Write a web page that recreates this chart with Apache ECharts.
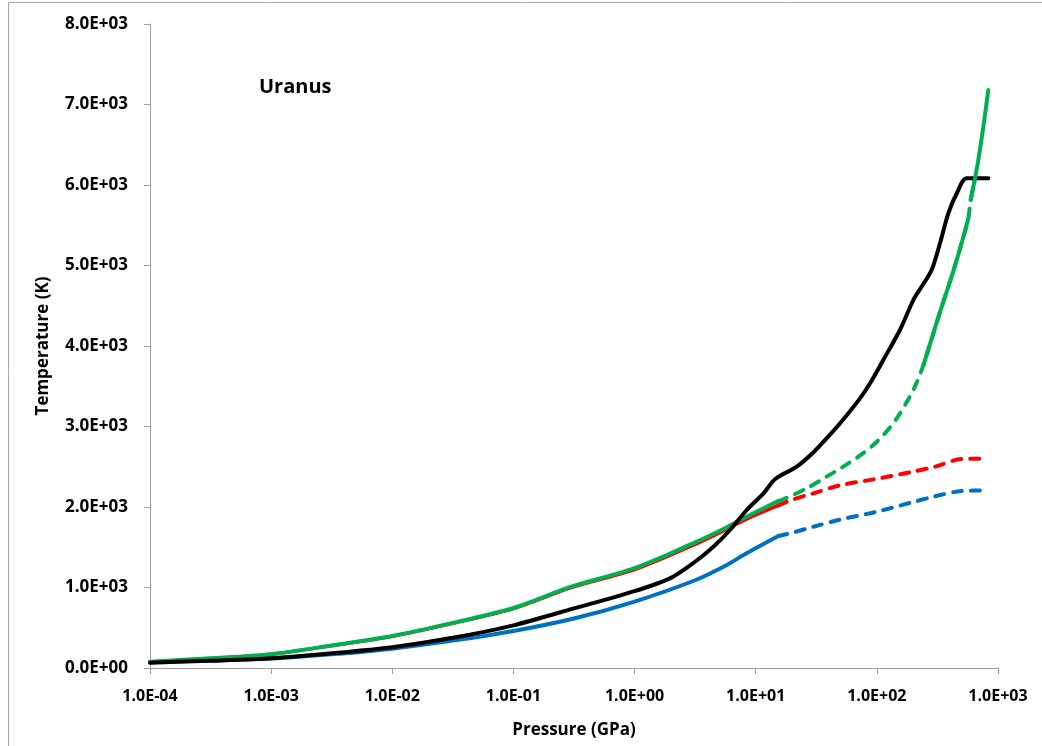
<!DOCTYPE html>
<html>
<head>
<meta charset="utf-8">
<script src="https://cdn.jsdelivr.net/npm/echarts@6/dist/echarts.min.js"></script>
<style>
html,body{margin:0;padding:0;background:#fff;}
#chart{width:1042px;height:746px;}
</style>
</head>
<body>
<div id="chart"></div>
<script>
// Data: [pressure (GPa), temperature (K)]
const blueSolid = [[1e-4,72],[3.16e-4,92],[1e-3,118],[3.16e-3,170],[1e-2,240],[3.16e-2,340],[0.1,460],[0.316,615],[1,825],[3.16,1090],[5.62,1270],[8.4,1425],[15.4,1640]];
const blueDashed = [[15.4,1640],[20,1680],[30,1755],[50,1845],[100,1942],[200,2062],[300,2132],[500,2199],[800,2205]];
const redSolid = [[1e-4,75],[3.16e-4,118],[1e-3,170],[3.16e-3,278],[1e-2,395],[3.16e-2,556],[0.1,738],[0.3,998],[1,1222],[3.16,1535],[5.62,1715],[8.4,1850],[15.4,2020]];
const redDashed = [[15.4,2020],[20,2090],[30,2170],[50,2270],[100,2350],[200,2440],[300,2500],[500,2595],[800,2600]];
const greenSolid = [[1e-4,78],[3.16e-4,120],[1e-3,172],[3.16e-3,280],[1e-2,398],[3.16e-2,560],[0.1,745],[0.3,1010],[1,1240],[3.16,1560],[5.62,1740],[8.4,1880],[15.4,2075]];
const greenDashed = [[15.4,2075],[16.9,2095],[26.4,2232],[38.5,2377],[52.8,2501],[70.3,2625],[93.5,2770],[120,2936],[146,3102],[176,3300],[207,3500],[242,3760],[282,4080],[332,4420],[428,4930],[517,5350],[569,5586],[595,5814],[646,6083]];
const greenUpperA = [[242,3760],[282,4080],[332,4420],[428,4930],[517,5350],[569,5586]];
const greenUpperB = [[595,5814],[646,6083],[688,6311],[757,6724],[832,7180]];
const blackLine = [[1e-4,66],[3.16e-4,90],[1e-3,120],[3.16e-3,182],[1e-2,258],[3.16e-2,375],[0.1,530],[0.316,740],[1,955],[2,1120],[3.16,1320],[4.47,1507],[6.14,1714],[8.43,1963],[11.6,2170],[14.5,2348],[21.8,2501],[30,2680],[38.5,2853],[49.7,3040],[72.6,3350],[87.9,3537],[113,3826],[155,4199],[200,4571],[234,4737],[283,4944],[332,5276],[389,5648],[457,5897],[551,6083],[832,6083]];
const xTicks = ['1.0E-04','1.0E-03','1.0E-02','1.0E-01','1.0E+00','1.0E+01','1.0E+02','1.0E+03'];
const yTicks = ['0.0E+00','1.0E+03','2.0E+03','3.0E+03','4.0E+03','5.0E+03','6.0E+03','7.0E+03','8.0E+03'];

const BLUE = '#0070C0', RED = '#FF0000', GREEN = '#00B050', BLACK = '#000000';
const FONT = '"Open Sans", "Liberation Sans", sans-serif';
const AXIS = '#a0a0a0';

function xLabel(v){
  const e = Math.round(Math.log10(v));
  return xTicks[e + 4] !== undefined ? xTicks[e + 4] : '';
}
function yLabel(v){
  const i = Math.round(v / 1000);
  return yTicks[i] !== undefined ? yTicks[i] : '';
}

function line(data, color, width, dashed, z){
  return {
    type: 'line', data: data, showSymbol: false, symbol: 'none',
    smooth: 0.3,
    z: z, silent: true,
    lineStyle: {color: color, width: width, type: dashed ? [9, 9] : 'solid', cap: 'round', join: 'round'}
  };
}

const chart = echarts.init(document.getElementById('chart'), null, {renderer: 'canvas'});
chart.setOption({
  animation: false,
  backgroundColor: '#ffffff',
  grid: {left: 150, right: 44, top: 24, bottom: 78, containLabel: false},
  xAxis: {
    type: 'log', logBase: 10, min: 1e-4, max: 1e3,
    name: 'Pressure (GPa)', nameLocation: 'middle', nameGap: 54,
    nameTextStyle: {fontFamily: FONT, fontWeight: 'bold', fontSize: 17, color: '#000'},
    axisLine: {show: true, lineStyle: {color: AXIS, width: 1}},
    axisTick: {show: true, length: 6, lineStyle: {color: AXIS}},
    minorTick: {show: false},
    splitLine: {show: false},
    axisLabel: {formatter: xLabel, fontFamily: FONT, fontWeight: 'bold', fontSize: 16, color: '#000', margin: 20, showMinLabel: true, showMaxLabel: true}
  },
  yAxis: {
    type: 'value', min: 0, max: 8000, interval: 1000,
    name: 'Temperature (K)', nameLocation: 'middle', nameGap: 98,
    nameTextStyle: {fontFamily: FONT, fontWeight: 'bold', fontSize: 17, color: '#000'},
    axisLine: {show: true, lineStyle: {color: AXIS, width: 1}},
    axisTick: {show: true, length: 6, lineStyle: {color: AXIS}},
    splitLine: {show: false},
    axisLabel: {formatter: yLabel, fontFamily: FONT, fontWeight: 'bold', fontSize: 17, color: '#000', margin: 22}
  },
  graphic: [
    {type: 'rect', shape: {x: 8.5, y: 2.5, width: 1200, height: 900}, style: {fill: 'none', stroke: '#a6a6a6', lineWidth: 1}, silent: true, z: 0},
    {type: 'text', left: 259, top: 77, style: {text: 'Uranus', fontFamily: FONT, fontWeight: 'bold', fontSize: 20, fill: '#000'}, z: 10}
  ],
  series: [
    line(blueSolid, BLUE, 4, false, 2),
    line(blueDashed, BLUE, 4, true, 2),
    line(redSolid, RED, 3.5, false, 3),
    line(redDashed, RED, 4, true, 3),
    line(greenSolid, GREEN, 4, false, 4),
    line(greenDashed, GREEN, 4, true, 4),
    line(blackLine, BLACK, 4, false, 5),
    line(greenUpperA, GREEN, 4, false, 6),
    line(greenUpperB, GREEN, 4, false, 6)
  ]
});
</script>
</body>
</html>
